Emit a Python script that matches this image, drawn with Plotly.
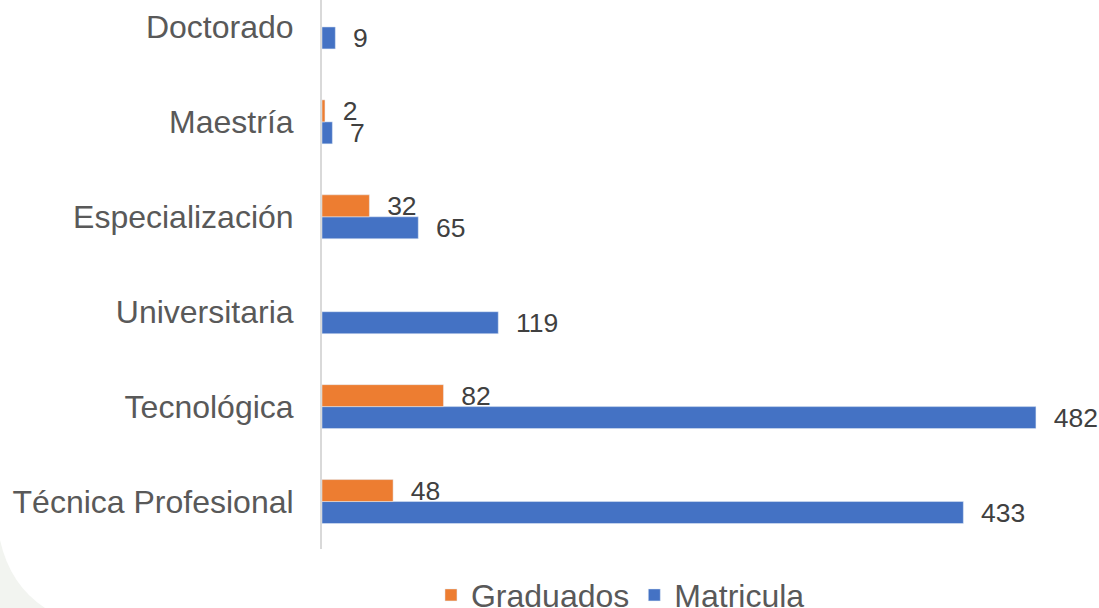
import plotly.graph_objects as go

categories = ["Técnica Profesional", "Tecnológica", "Universitaria",
              "Especialización", "Maestría", "Doctorado"]
graduados = [48, 82, None, 32, 2, None]
matricula = [433, 482, 119, 65, 7, 9]

pos = list(range(len(categories)))
pad = "\u00a0\u00a0"

def labels(vals):
    return [("" if v is None else pad + str(v)) for v in vals]

FONT = "Liberation Sans, Arial, sans-serif"

fig = go.Figure()
fig.add_trace(go.Bar(
    y=pos, x=matricula, orientation="h", name="Matricula",
    marker=dict(color="#4472C4"), text=labels(matricula),
    textposition="outside", constraintext="none", cliponaxis=False,
    textfont=dict(size=26.5, color="#404040", family=FONT),
    legendrank=2,
))
fig.add_trace(go.Bar(
    y=pos, x=graduados, orientation="h", name="Graduados",
    marker=dict(color="#ED7D31"), text=labels(graduados),
    textposition="outside", constraintext="none", cliponaxis=False,
    textfont=dict(size=26.5, color="#404040", family=FONT),
    legendrank=1,
))

L, R, T, B = 322, 49, 0, 59
fig.update_layout(
    width=1099, height=608,
    margin=dict(l=L, r=R, t=T, b=B, pad=0, autoexpand=False),
    paper_bgcolor="white", plot_bgcolor="rgba(0,0,0,0)",
    barmode="group", bargap=0.537, bargroupgap=0,
    font=dict(family=FONT, color="#595959"),
    showlegend=True,
    legend=dict(orientation="h", x=0.41, xanchor="center", y=-0.084, yanchor="middle",
                font=dict(size=32, color="#595959"), bgcolor="rgba(0,0,0,0)",
                itemwidth=30, traceorder="normal"),
    xaxis=dict(range=[0, 491.5], showgrid=False, zeroline=False, showticklabels=False,
               showline=False, ticks=""),
    yaxis=dict(range=[-0.5, 5.284], tickmode="array", tickvals=pos, ticktext=categories,
               showgrid=False, zeroline=False, showline=True, linecolor="#D9D9D9",
               linewidth=2, ticks="outside", ticklen=20, tickcolor="rgba(0,0,0,0)",
               tickfont=dict(size=32, color="#595959")),
    shapes=[dict(type="path", xref="paper", yref="paper", xsizemode="pixel",
                 ysizemode="pixel", xanchor=0, yanchor=0,
                 path="M -322 9 Q -312 -36 -277 -59 L -322 -59 Z",
                 fillcolor="#F2F4F0", line=dict(width=0), layer="below")],
)

fig.write_html("out.html", config={"displayModeBar": False},
               post_script="document.body.style.margin='0';document.body.style.overflow='hidden';")
